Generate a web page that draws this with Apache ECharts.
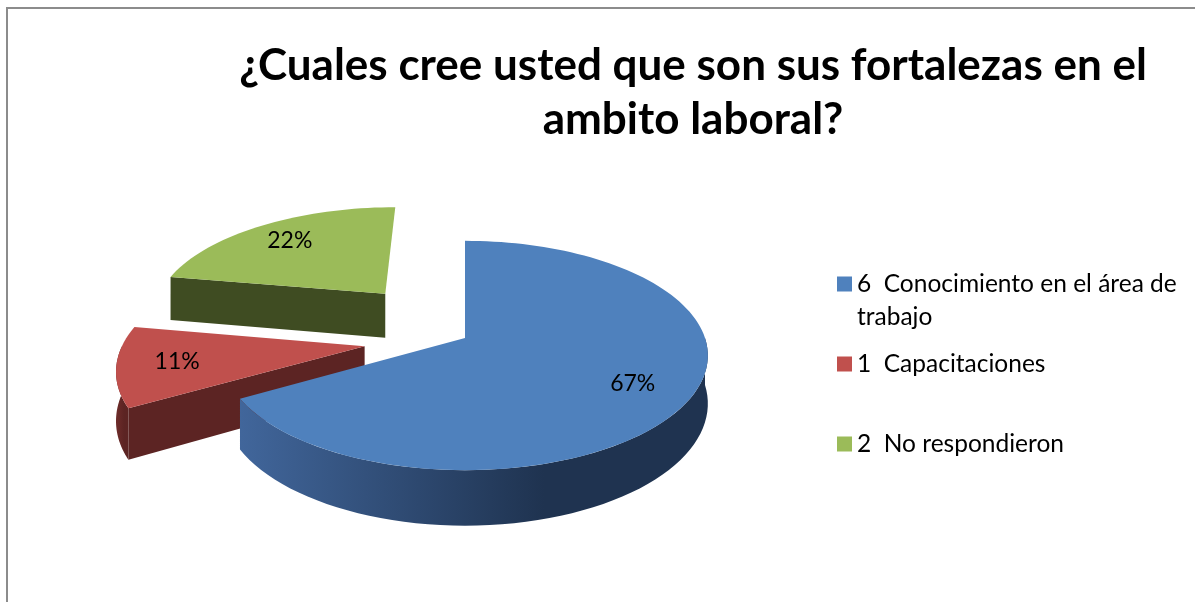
<!DOCTYPE html>
<html>
<head>
<meta charset="utf-8">
<title>Fortalezas en el ámbito laboral</title>
<script src="https://cdn.jsdelivr.net/npm/echarts@6/dist/echarts.min.js"></script>
<style>
html, body { margin: 0; padding: 0; background: #fff; }
#main { width: 1195px; height: 602px; }
</style>
</head>
<body>
<div id="main"></div>
<script>
// datos
var nombres = ['6  Conocimiento en el área de trabajo', '1  Capacitaciones', '2  No respondieron'];
var cantidades = [6, 1, 2];

// estilos
var colores = ['#4F81BD', '#C0504D', '#9BBB59'];
var caras = ['#1F3350', '#5C2423', '#3F4C22'];
var lados = [['#41669B', '#1F3350'], ['#6E2C2A', '#5C2423'], ['#4A5A27', '#3F4C22']];
var explode = [0, 0.42, 0.55];
var legendTop = [234.5, 347.5, 427.5];

// geometria del pastel 3D (perspectiva simple)
var CX = 465, CY = 338, RX = 240, RY = 112, DIST = 6.55, DEPTH = 47;
var labelR = 0.76;
var total = cantidades.reduce(function (a, b) { return a + b; }, 0);

function rad(d) { return d * Math.PI / 180; }
function proj(u, v, down) {
    var s = DIST / (DIST - v);
    return [CX + RX * u * s, CY + RY * v * s + down * DEPTH * s];
}
function punto(off, ang, r, down) {
    return proj(off[0] + r * Math.sin(rad(ang)), off[1] - r * Math.cos(rad(ang)), down);
}

function makeRender(i) {
    return function (params, api) {
        var val = api.value(0);
        var start = 0;
        for (var k = 0; k < i; k++) start += cantidades[k] / total * 360;
        var end = start + val / total * 360;
        var mid = (start + end) / 2;
        var off = [explode[i] * Math.sin(rad(mid)), -explode[i] * Math.cos(rad(mid))];
        var children = [];
        // caras de corte visibles
        [start, end].forEach(function (a, j) {
            var s = Math.sin(rad(a));
            var visible = j === 0 ? s < -1e-6 : s > 1e-6;
            if (!visible) return;
            children.push({
                type: 'polygon',
                shape: { points: [punto(off, a, 0, 0), punto(off, a, 1, 0), punto(off, a, 1, 1), punto(off, a, 0, 1)] },
                style: { fill: caras[i] }
            });
        });
        // pared exterior (parte frontal)
        var a0 = Math.max(start, 90), a1 = Math.min(end, 270);
        if (a1 > a0) {
            var arriba = [], abajo = [];
            for (var t = 0; t <= 60; t++) {
                var a = a0 + (a1 - a0) * t / 60;
                arriba.push(punto(off, a, 1, 0));
                abajo.unshift(punto(off, a, 1, 1));
            }
            children.push({
                type: 'polygon',
                shape: { points: arriba.concat(abajo) },
                style: {
                    fill: new echarts.graphic.LinearGradient(0, 0, 1, 0, [
                        { offset: 0, color: lados[i][0] },
                        { offset: 0.65, color: lados[i][1] },
                        { offset: 1, color: lados[i][1] }
                    ])
                }
            });
        }
        // cara superior
        var cara = [punto(off, start, 0, 0)];
        var n = Math.max(8, Math.ceil((end - start) / 2));
        for (var t2 = 0; t2 <= n; t2++) cara.push(punto(off, start + (end - start) * t2 / n, 1, 0));
        children.push({ type: 'polygon', shape: { points: cara }, style: { fill: colores[i] } });
        // etiqueta
        var lp = punto(off, mid, labelR, 0);
        children.push({
            type: 'text', x: lp[0], y: lp[1],
            style: {
                text: Math.round(val / total * 100) + '%',
                fill: '#000', font: '23px Lato', align: 'center', verticalAlign: 'middle'
            }
        });
        return { type: 'group', children: children };
    };
}

var series = [];
var legends = [];
for (var i = 0; i < nombres.length; i++) {
    series.push({
        type: 'custom',
        name: nombres[i],
        coordinateSystem: 'none',
        z: 2 + nombres.length - i,
        silent: true,
        itemStyle: { color: colores[i] },
        renderItem: makeRender(i),
        data: [[cantidades[i]]]
    });
    legends.push({
        data: [nombres[i]],
        left: 837,
        top: legendTop[i],
        padding: 0,
        icon: 'rect',
        itemWidth: 15,
        itemHeight: 15,
        selectedMode: false,
        // primera linea alineada con el cuadro
        formatter: i === 0 ? function (name) { return '\n' + name; } : '{name}',
        textStyle: {
            fontFamily: 'Lato', fontSize: 24.5, color: '#000', lineHeight: 33,
            width: i === 0 ? 345 : null, overflow: i === 0 ? 'break' : 'none'
        }
    });
}

var myChart = echarts.init(document.getElementById('main'));
var option = {
    animation: false,
    backgroundColor: '#fff',
    title: {
        text: '¿Cuales cree usted que son sus fortalezas en el\nambito laboral?',
        left: 693,
        top: 39,
        padding: 0,
        textAlign: 'center',
        textStyle: { fontFamily: 'Lato', fontWeight: 'bold', fontSize: 44, lineHeight: 54, color: '#000' }
    },
    legend: legends,
    graphic: [{
        type: 'rect',
        shape: { x: 7, y: 8, width: 1300, height: 700 },
        style: { fill: 'none', stroke: '#8c8c8c', lineWidth: 2 },
        silent: true
    }],
    series: series
};
myChart.setOption(option);
</script>
</body>
</html>
